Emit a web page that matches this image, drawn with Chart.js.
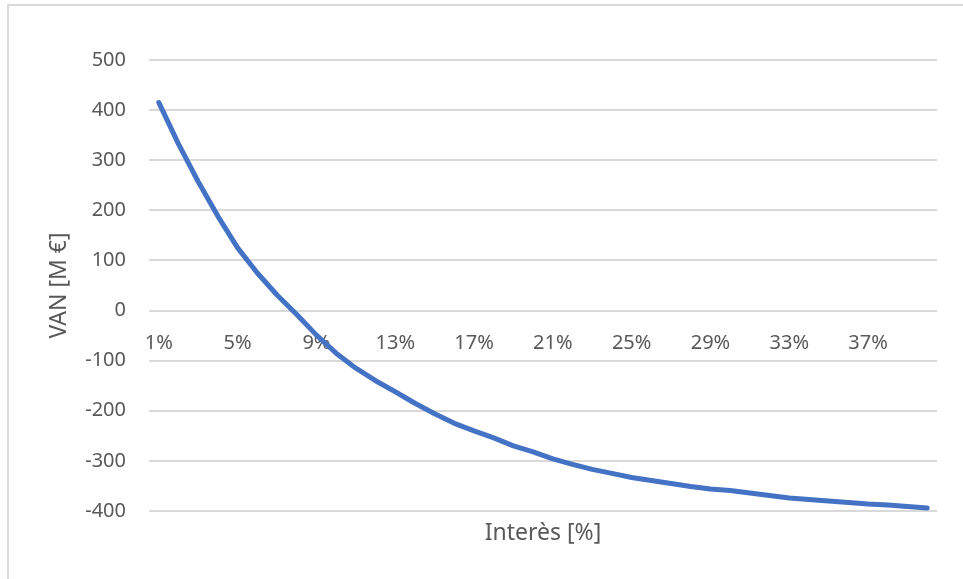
<!DOCTYPE html>
<html>
<head>
<meta charset="utf-8">
<script src="https://cdn.jsdelivr.net/npm/chart.js@4"></script>
<style>
  body { margin: 0; background: #fff; }
  #wrap { position: relative; width: 963px; height: 579px; overflow: hidden; }
  #frame { position: absolute; left: 7px; top: 4px; width: 1000px; height: 1000px; border: 2px solid #d9d9d9; box-sizing: border-box; }
  #van-chart { position: absolute; left: 0; top: 0; }
</style>
</head>
<body>
<div id="wrap">
  <div id="frame"></div>
  <canvas id="van-chart" width="963" height="579"></canvas>
</div>
<script>
// interest rates 1%..40%
var rates = [
  "1%", "2%", "3%", "4%", "5%", "6%", "7%", "8%", "9%", "10%",
  "11%", "12%", "13%", "14%", "15%", "16%", "17%", "18%", "19%", "20%",
  "21%", "22%", "23%", "24%", "25%", "26%", "27%", "28%", "29%", "30%",
  "31%", "32%", "33%", "34%", "35%", "36%", "37%", "38%", "39%", "40%",
];
// VAN in M€ for each rate
var van = [
  415, 332, 257, 188, 125, 75, 31, -8, -49, -85,
  -115, -140, -162, -185, -206, -225, -240, -254, -270, -282,
  -296, -307, -317, -325, -333, -339, -345, -351, -356, -359,
  -364, -369, -374, -377, -380, -383, -386, -388, -391, -394,
];
var yMin = -400;
var yMax = 500;
var yStep = 100;

var textColor = "#595959";
var gridColor = "#d9d9d9";
var tickFont = { family: "Noto Sans", size: 20 };
var titleFont = { family: "Noto Sans", size: 23 };

var vanChart = new Chart(document.getElementById("van-chart"), {
  type: "line",
  data: {
    labels: rates,
    datasets: [
      {
        data: van,
        borderColor: "#4472c4",
        borderWidth: 5,
        borderCapStyle: "round",
        borderJoinStyle: "round",
        pointRadius: 0,
        tension: 0,
        fill: false,
      },
    ],
  },
  options: {
    responsive: false,
    animation: false,
    layout: {
      padding: { left: 0, top: 60, right: 26, bottom: 0 },
    },
    plugins: {
      legend: { display: false },
      tooltip: { enabled: false },
    },
    scales: {
      // category axis sits on the zero line
      x: {
        type: "category",
        position: { y: 0 },
        offset: true,
        grid: { display: false, drawTicks: false },
        border: { display: false },
        ticks: {
          autoSkip: false,
          maxRotation: 0,
          padding: 21,
          color: textColor,
          font: tickFont,
          callback: function (value, index) {
            return index % 4 === 0 ? this.getLabelForValue(value) : "";
          },
        },
        afterFit: function (scale) {
          scale.height = 0;
        },
      },
      // bottom axis only carries the title
      xTitle: {
        type: "category",
        axis: "x",
        position: "bottom",
        labels: rates,
        grid: { display: false, drawTicks: false },
        border: { display: false },
        ticks: { display: false },
        title: {
          display: true,
          text: "Interès [%]",
          color: textColor,
          font: titleFont,
          padding: { top: 0, bottom: 32 },
        },
        afterFit: function (scale) {
          scale.height = 68;
        },
      },
      y: {
        min: yMin,
        max: yMax,
        grid: { color: gridColor, lineWidth: 2, drawTicks: false },
        border: { display: false },
        ticks: {
          stepSize: yStep,
          padding: 23,
          color: textColor,
          font: tickFont,
        },
        title: {
          display: true,
          text: "VAN [M €]",
          color: textColor,
          font: titleFont,
          padding: { top: 46, bottom: 0 },
        },
        afterFit: function (scale) {
          scale.width = 149;
        },
      },
    },
  },
});
</script>
</body>
</html>
